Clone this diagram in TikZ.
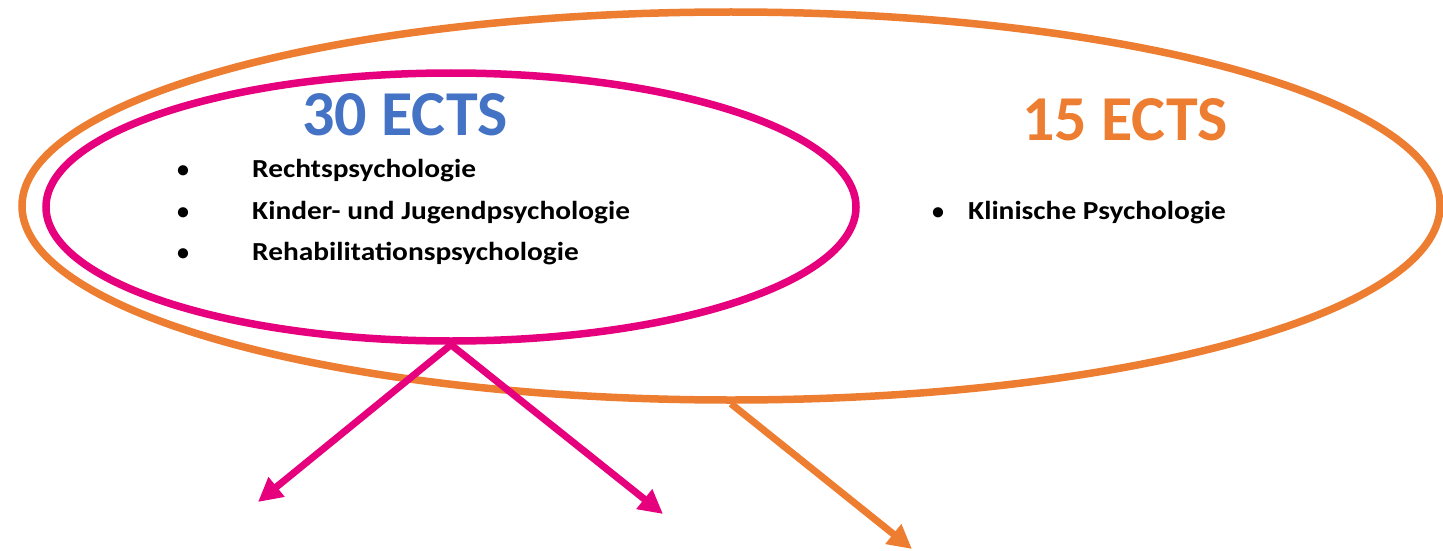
\documentclass[tikz,border=0pt]{standalone}
\usepackage{fontspec}
\setmainfont{Carlito}
\newfontfamily\listenfont[FakeStretch=1.13]{Carlito}
\usetikzlibrary{shapes.geometric, arrows.meta}
\definecolor{ectsorange}{HTML}{ED7D31}
\definecolor{ectspink}{HTML}{E6007E}
\definecolor{ectsblue}{HTML}{4472C4}

\begin{document}
\begin{tikzpicture}[x=1pt, y=-1pt,
    ring/.style={ellipse, draw, inner sep=0pt, line width=7.5pt},
    titel/.style={anchor=base, inner sep=0pt, font=\bfseries\fontsize{64}{72}\selectfont},
    eintrag/.style={anchor=base west, inner sep=0pt, font=\listenfont\bfseries\fontsize{26}{30}\selectfont},
    punkt/.style={anchor=base, inner sep=0pt, font=\bfseries\fontsize{24}{28}\selectfont},
    pfeil/.style={line width=7pt, -{Triangle[length=24pt, width=24pt]}}]
  \useasboundingbox (0,0) rectangle (1443,551);

  % ellipses
  \node[ring, ectsorange, minimum width=1418pt, minimum height=388pt] (e15) at (731,206) {};
  \node[ring, ectspink, minimum width=810pt, minimum height=268pt] (e30) at (451,207) {};

  % titles
  \node[titel, ectsblue] (t30) at (405,135) {30 ECTS};
  \node[titel, ectsorange] (t15) at (1125,140) {15 ECTS};

  % list inside the pink ellipse
  \node[punkt] (b1) at (183,177) {•};
  \node[eintrag] (i1) at (252,177) {Rechtspsychologie};
  \node[punkt] (b2) at (183,219) {•};
  \node[eintrag] (i2) at (252,219) {Kinder- und Jugendpsychologie};
  \node[punkt] (b3) at (183,260) {•};
  \node[eintrag] (i3) at (252,260) {Rehabilitationspsychologie};

  % list of the orange ellipse
  \node[punkt] (b4) at (938,219) {•};
  \node[eintrag] (i4) at (968,219) {Klinische Psychologie};

  % arrows
  \coordinate (z1) at (258,502);
  \coordinate (z2) at (663,514);
  \coordinate (z3) at (912,549);
  \draw[pfeil, ectsorange] (e15.south) -- (z3);
  \draw[pfeil, ectspink] (e30.south) -- (z1);
  \draw[pfeil, ectspink] (e30.south) -- (z2);
\end{tikzpicture}
\end{document}
